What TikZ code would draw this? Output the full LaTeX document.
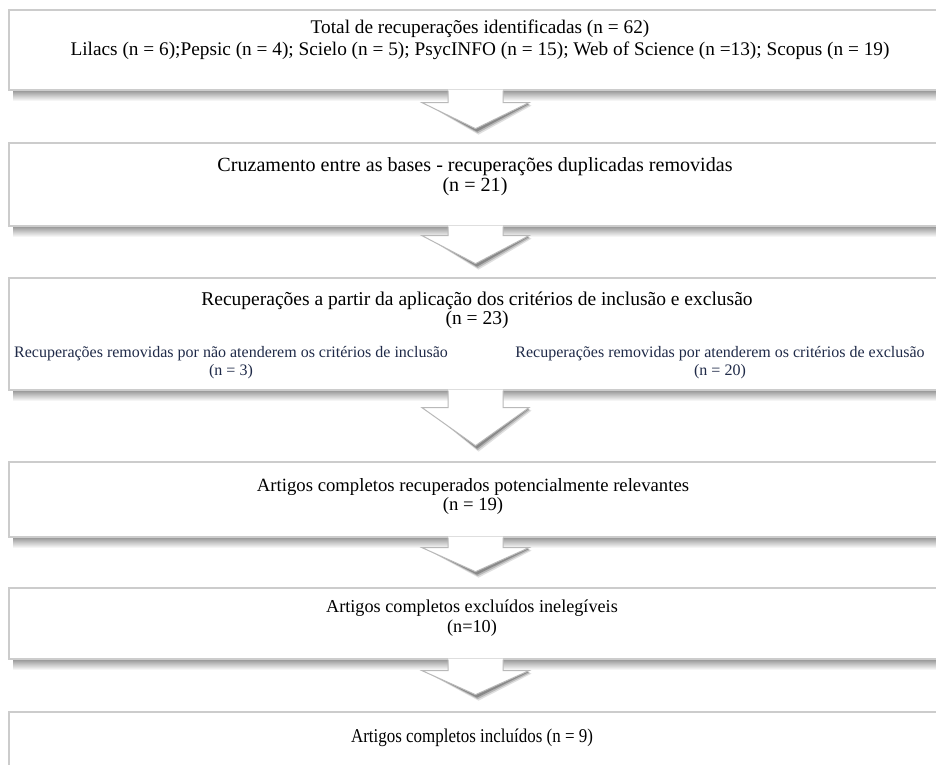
\documentclass[tikz,border=0pt]{standalone}
\usepackage{fontspec}
\setmainfont{Liberation Serif}
\usetikzlibrary{calc,positioning}
\definecolor{boxline}{RGB}{204,204,204}
\definecolor{arrowline}{RGB}{185,185,185}
\definecolor{subnavy}{RGB}{31,42,72}
\tikzset{flowbox/.style={rectangle,draw=boxline,line width=1.3pt,fill=white,inner sep=0pt,minimum width=933pt}}
\tikzset{boxtext/.style={font=\fontsize{19.5}{19.5}\selectfont,align=center,inner sep=0pt}}
\tikzset{subtext/.style={font=\fontsize{16}{18}\selectfont,text=subnavy,align=center,inner sep=0pt}}

% block arrow hanging under a box: #2 = stem length, #3 = tip depth
\newcommand{\blockarrow}[3]{%
  \foreach \sh/\op in {6/0.12,4.5/0.18,3/0.25} {
    \fill[black,opacity=\op] ($(#1.south)+(-50+\sh/2,-#2-\sh/2)$) -- ($(#1.south)+(\sh/2,-#3-\sh)$) -- ($(#1.south)+(50+\sh,-#2-\sh/2)$) -- ($(#1.south)+(50,-#2)$) -- ($(#1.south)+(0,-#3)$) -- ($(#1.south)+(-50,-#2)$) -- cycle;
  }
  \fill[white] ($(#1.south)+(-27.5,1)$) -- ($(#1.south)+(-27.5,-#2)$) -- ($(#1.south)+(-53.5,-#2)$) -- ($(#1.south)+(0,-#3)$) -- ($(#1.south)+(53.5,-#2)$) -- ($(#1.south)+(27.5,-#2)$) -- ($(#1.south)+(27.5,1)$) -- cycle;
  \draw[arrowline,line width=1pt,line join=miter] ($(#1.south)+(-27.5,0)$) -- ($(#1.south)+(-27.5,-#2)$) -- ($(#1.south)+(-53.5,-#2)$) -- ($(#1.south)+(0,-#3)$) -- ($(#1.south)+(53.5,-#2)$) -- ($(#1.south)+(27.5,-#2)$) -- ($(#1.south)+(27.5,0)$);
}

\begin{document}
\begin{tikzpicture}[x=1pt,y=1pt]
	\clip (0,0) rectangle (936,-764);
	\fill[white] (0,0) rectangle (936,-764);

	% boxes with their shadows
	\foreach \nm/\ytop/\ybot in {b1/10/90, b2/143/226, b3/278/390, b4/462/537, b5/588/659, b6/712/800} {
		\shade[top color=gray!85, bottom color=white] (13,-\ybot) rectangle (945,{-\ybot-11});
		\node[flowbox, minimum height={\ybot-\ytop}] (\nm) at (475.5,{-(\ytop+\ybot)/2}) {};
	};

	% arrows between the boxes
	\blockarrow{b1}{12}{38}
	\blockarrow{b2}{9}{37}
	\blockarrow{b3}{17}{55}
	\blockarrow{b4}{10}{34}
	\blockarrow{b5}{11}{35}

	\node[boxtext, font=\fontsize{19.3}{22}\selectfont] (t1) at (480,-39.5) {Total de recuperações identificadas (n = 62)\\Lilacs (n = 6);Pepsic (n = 4); Scielo (n = 5); PsycINFO (n = 15); Web of Science (n =13); Scopus (n = 19)};
	\node[boxtext, font=\fontsize{20.1}{19.5}\selectfont] (t2) at (475,-176.5) {Cruzamento entre as bases - recuperações duplicadas removidas\\(n = 21)};
	\node[boxtext] (t3) at (477,-310.5) {Recuperações a partir da aplicação dos critérios de inclusão e exclusão\\(n = 23)};
	\node[subtext] (s3a) at (231,-362.5) {Recuperações removidas por não atenderem os critérios de inclusão\\(n = 3)};
	\node[subtext] (s3b) at (720,-362.5) {Recuperações removidas por atenderem os critérios de exclusão\\(n = 20)};
	\node[boxtext, font=\fontsize{18.7}{19.5}\selectfont] (t4) at (473,-496.5) {Artigos completos recuperados potencialmente relevantes\\(n = 19)};
	\node[boxtext, font=\fontsize{18.2}{20.5}\selectfont] (t5) at (472,-618) {Artigos completos excluídos inelegíveis\\(n=10)};
	\node[boxtext, xscale=0.87, transform shape] (t6) at (472,-738) {Artigos completos incluídos (n = 9)};
\end{tikzpicture}
\end{document}
